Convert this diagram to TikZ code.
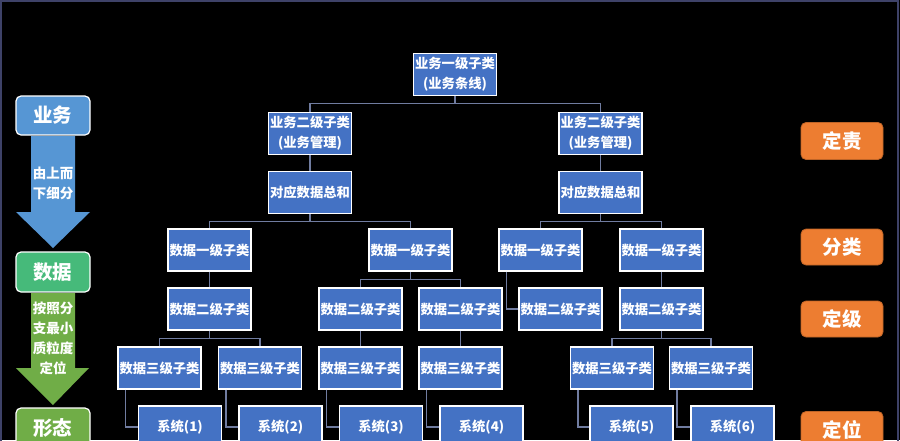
\documentclass[tikz,border=0pt]{standalone}
\usepackage{fontspec}
\setmainfont{Noto Sans CJK SC}
\definecolor{treeblue}{RGB}{68,114,196}
\definecolor{sideblue}{RGB}{86,150,212}
\definecolor{datagreen}{RGB}{70,186,122}
\definecolor{formgreen}{RGB}{112,173,71}
\definecolor{tagorange}{RGB}{237,125,49}
\definecolor{linkgray}{RGB}{112,124,160}
\definecolor{framecol}{RGB}{62,66,104}

\begin{document}
\begin{tikzpicture}[
    x=1pt, y=-1pt,
    tbox/.style={draw=white, line width=1.2pt, fill=treeblue, text=white, font=\bfseries\fontsize{13.3}{20}\selectfont, minimum width=83pt, minimum height=42pt, inner sep=0pt, align=center},
    side/.style={draw=white, line width=1.2pt, rounded corners=5pt, text=white, font=\bfseries\fontsize{19.5}{22}\selectfont, minimum width=74pt, minimum height=39pt, inner sep=0pt},
    tag/.style={side, fill=tagorange, draw=tagorange!80!black, line width=0.8pt, minimum width=82pt, minimum height=37pt},
    note/.style={text=white, font=\bfseries\fontsize{13.5}{20}\selectfont, align=center, inner sep=0pt},
    link/.style={draw=linkgray, line width=1.2pt}
]
    % Background and frame
    \clip (0,0) rectangle (900,440);
    \fill[black] (0,0) rectangle (900,440);
    \draw[framecol, line width=1.5pt] (1,1) rectangle (898,446);

    % Business levels
    \node[tbox] (top) at (455,74.5) {业务一级子类\\(业务条线)};
    \node[tbox] (l2a) at (310,133.5) {业务二级子类\\(业务管理)};
    \node[tbox] (l2b) at (600.5,133.5) {业务二级子类\\(业务管理)};
    \node[tbox] (suma) at (310,192.5) {对应数据总和};
    \node[tbox] (sumb) at (600.5,192.5) {对应数据总和};

    % Data level one
    \node[tbox] (d1a) at (209.5,250) {数据一级子类};
    \node[tbox] (d1b) at (410.5,250) {数据一级子类};
    \node[tbox] (d1c) at (540.5,250) {数据一级子类};
    \node[tbox] (d1d) at (661.5,250) {数据一级子类};

    % Data level two
    \node[tbox] (d2a) at (209.5,309) {数据二级子类};
    \node[tbox] (d2b) at (360.5,309) {数据二级子类};
    \node[tbox] (d2c) at (460.5,309) {数据二级子类};
    \node[tbox] (d2d) at (560.5,309) {数据二级子类};
    \node[tbox] (d2e) at (661.5,309) {数据二级子类};

    % Data level three
    \node[tbox] (d3a) at (159.5,368) {数据三级子类};
    \node[tbox] (d3b) at (260,368) {数据三级子类};
    \node[tbox] (d3c) at (360.5,368) {数据三级子类};
    \node[tbox] (d3d) at (460.5,368) {数据三级子类};
    \node[tbox] (d3e) at (612,368) {数据三级子类};
    \node[tbox] (d3f) at (711,368) {数据三级子类};

    % Systems
    \node[tbox] (sys1) at (180,427) {系统(1)};
    \node[tbox] (sys2) at (280.5,427) {系统(2)};
    \node[tbox] (sys3) at (381,427) {系统(3)};
    \node[tbox] (sys4) at (481.5,427) {系统(4)};
    \node[tbox] (sys5) at (631.5,427) {系统(5)};
    \node[tbox] (sys6) at (732.5,427) {系统(6)};

    % Connectors
    \draw[link] (top.south) -- ++(0,7) coordinate (j0) -| (l2a.north);
    \draw[link] (j0) -| (l2b.north);
    \draw[link] (l2a) -- (suma);
    \draw[link] (l2b) -- (sumb);
    \draw[link] (suma.south) -- ++(0,7) coordinate (j1) -| (d1a.north);
    \draw[link] (j1) -| (d1b.north);
    \draw[link] (sumb.south) -- ++(0,7) coordinate (j2) -| (d1c.north);
    \draw[link] (j2) -| (d1d.north);
    \draw[link] (d1a) -- (d2a);
    \draw[link] (d1b.south) -- ++(0,8) coordinate (j3) -| (d2b.north);
    \draw[link] (j3) -| (d2c.north);
    \draw[link] ([xshift=8pt]d1c.south west) |- (d2d.west);
    \draw[link] (d1d) -- (d2e);
    \draw[link] (d2a.south) -- ++(0,8) coordinate (j4) -| (d3a.north);
    \draw[link] (j4) -| (d3b.north);
    \draw[link] (d2b) -- (d3c);
    \draw[link] (d2c) -- (d3d);
    \draw[link] (d2e.south) -- ++(0,8) coordinate (j5) -| (d3e.north);
    \draw[link] (j5) -| (d3f.north);
    \foreach \p/\s in {d3a/sys1, d3b/sys2, d3c/sys3, d3d/sys4, d3e/sys5, d3f/sys6}
        \draw[link] ([xshift=8pt]\p.south west) |- (\s.west);

    % Left column
    \node[side, fill=sideblue] (biz) at (53,115.5) {业务};
    \node[side, fill=datagreen, minimum height=40pt] (data) at (53,272) {数据};
    \node[side, fill=formgreen, minimum height=40pt] (form) at (53,428) {形态};
    \fill[sideblue] (31,136) -- (75,136) -- (75,212) -- (90,212) -- (53,248) -- (16,212) -- (31,212) -- cycle;
    \fill[formgreen] (31,293) -- (75,293) -- (75,368) -- (89,368) -- (53,405) -- (16,368) -- (31,368) -- cycle;
    \node[note] (down) at (53,183) {由上而\\下细分};
    \node[note] (pos) at (53,338) {按照分\\支最小\\质粒度\\定位};

    % Right column
    \node[tag] (duty) at (842,141) {定责};
    \node[tag, minimum height=36pt] (cls) at (842,247) {分类};
    \node[tag, minimum height=36pt] (lvl) at (842,319) {定级};
    \node[tag] (loc) at (842,430) {定位};
\end{tikzpicture}
\end{document}
